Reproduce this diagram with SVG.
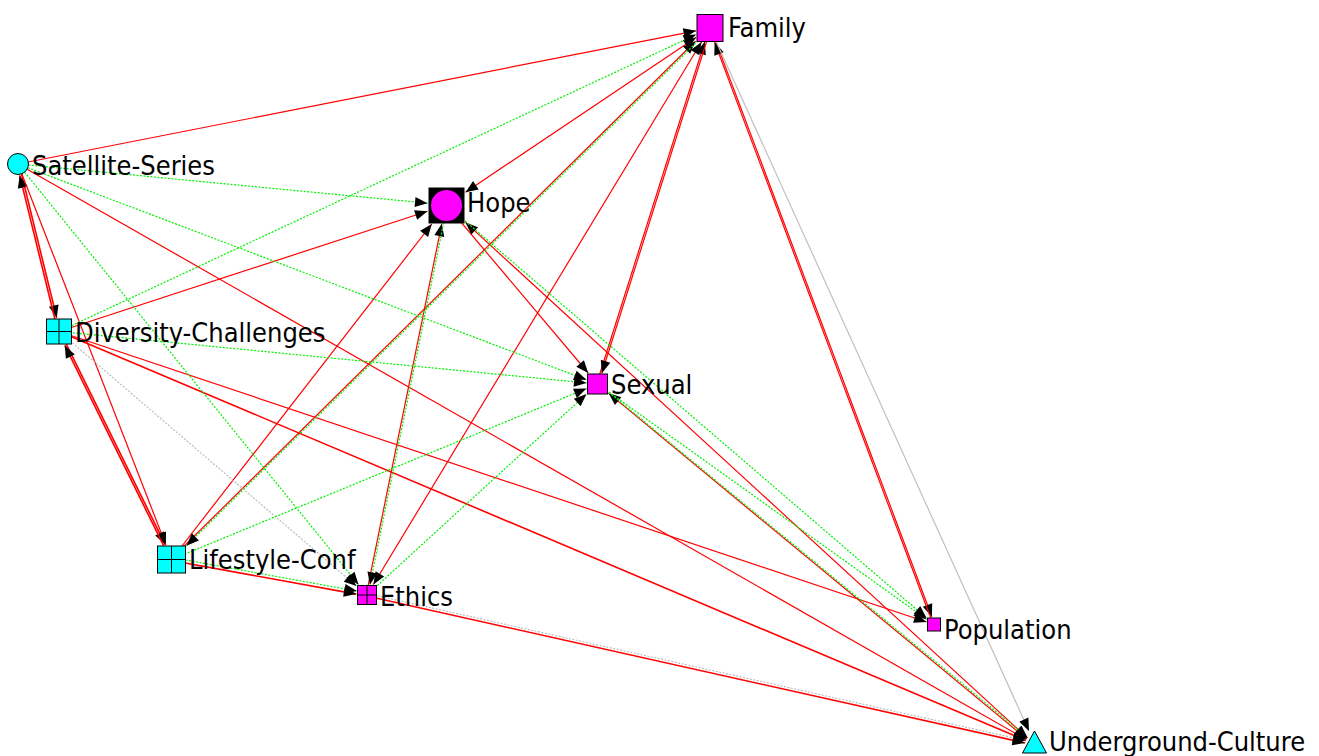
<svg xmlns="http://www.w3.org/2000/svg" width="1319" height="756" viewBox="0 0 1319 756">
<style>
.r{stroke:#ff0000;stroke-width:1.2;fill:none}
.rt{stroke:#ff0000;stroke-width:1.6;fill:none}
.g{stroke:#00f000;stroke-width:1.2;stroke-dasharray:2 1.5;fill:none}
.k{stroke:#c0c0c0;stroke-width:1.2;fill:none}
.kd{stroke:#b8b8b8;stroke-width:1.1;stroke-dasharray:2 1.5;fill:none}
.e{marker-end:url(#ah)}
.m{fill:#ff00ff;stroke:#000;stroke-width:1}
.c{fill:#00ffff;stroke:#000;stroke-width:1}
.gl{stroke:#000;stroke-width:1;fill:none}
text{font-family:"DejaVu Sans Condensed","DejaVu Sans",sans-serif;font-size:27px;fill:#000}
</style>
<defs>
<marker id="ah" markerUnits="userSpaceOnUse" markerWidth="13" markerHeight="11" refX="12.5" refY="5" orient="auto-start-reverse" overflow="visible"><path d="M0,0L12.5,5L0,10z" fill="#000"/></marker>
</defs>
<g id="connectors">
<line class="r e" x1="18" y1="164" x2="696" y2="30.8"/>
<line class="r e" x1="18" y1="164" x2="1026.2" y2="739.5"/>
<line class="rt e" x1="19" y1="163.8" x2="56.7" y2="317.8"/>
<line class="rt e" x1="58" y1="331.7" x2="19.7" y2="175.4"/>
<line class="r e" x1="18" y1="164" x2="165.9" y2="545"/>
<line class="r e" x1="59" y1="331.5" x2="427.5" y2="211.2"/>
<line class="r e" x1="59" y1="331.5" x2="926.5" y2="622"/>
<line class="rt e" x1="59" y1="331.5" x2="1025.7" y2="740.5"/>
<line class="rt e" x1="59.9" y1="331.1" x2="165.2" y2="544.6"/>
<line class="rt e" x1="170.6" y1="559.9" x2="64.8" y2="345.4"/>
<line class="r e" x1="465.5" y1="192.2" x2="696" y2="37.4" marker-start="url(#ah)"/>
<line class="r e" x1="446.5" y1="205" x2="588.2" y2="373"/>
<line class="r e" x1="465.5" y1="222.4" x2="1027.4" y2="737.9" marker-start="url(#ah)"/>
<line class="r e" x1="171.5" y1="559.5" x2="431.8" y2="224"/>
<line class="r e" x1="171" y1="559" x2="695.5" y2="41.3"/>
<line class="rt e" x1="171.3" y1="560.5" x2="356.3" y2="594.1"/>
<line class="r e" x1="373.4" y1="584.5" x2="701.5" y2="42" marker-start="url(#ah)"/>
<line class="r e" x1="366.2" y1="594.8" x2="441.8" y2="223.8"/>
<line class="rt e" x1="366.8" y1="596" x2="1025" y2="743"/>
<line class="r e" x1="596.7" y1="383.8" x2="704.8" y2="41.8"/>
<line class="r e" x1="710.8" y1="28.2" x2="601.8" y2="373.2"/>
<line class="r e" x1="608.5" y1="393.1" x2="1026.6" y2="738.9" marker-start="url(#ah)"/>
<line class="r e" x1="710.7" y1="27.7" x2="931.9" y2="616.7"/>
<line class="r e" x1="933.3" y1="624.8" x2="714.6" y2="42.3"/>
<line class="k e" x1="710" y1="28" x2="1029" y2="731"/>
<line class="kd e" x1="367.3" y1="593.5" x2="1025.5" y2="740.5"/>
<line class="kd e" x1="59" y1="331.5" x2="356.5" y2="586"/>
<line class="g e" x1="710.5" y1="28.5" x2="186.5" y2="545.7"/>
<line class="g e" x1="171.9" y1="557.5" x2="356.9" y2="591.1"/>
<line class="g e" x1="447.3" y1="205.2" x2="369.9" y2="584.7"/>
<line class="g e" x1="598" y1="383.4" x2="1027.6" y2="737.7"/>
<line class="g e" x1="18" y1="164" x2="427.5" y2="203.2"/>
<line class="g e" x1="18" y1="164" x2="586.5" y2="379.8"/>
<line class="g e" x1="18" y1="164" x2="358.5" y2="584.5"/>
<line class="g e" x1="59" y1="331.5" x2="696" y2="34.6"/>
<line class="g e" x1="59" y1="331.5" x2="586.5" y2="382.9"/>
<line class="g e" x1="171.5" y1="559.5" x2="586.5" y2="388.5"/>
<line class="g e" x1="367" y1="595" x2="586.5" y2="394.1"/>
<line class="g e" x1="446.5" y1="205" x2="926.5" y2="618"/>
<line class="g e" x1="597.5" y1="384" x2="926.5" y2="619.2"/>
</g>
<g id="node-family">
<rect class="m" x="697" y="14.5" width="26" height="27"/>
<text x="728" y="37">Family</text>
</g>
<g id="node-satellite-series">
<circle class="c" cx="18" cy="164" r="10.5"/>
<text x="32" y="175">Satellite-Series</text>
</g>
<g id="node-hope">
<rect x="428.5" y="187.5" width="36" height="36" fill="#000"/>
<circle cx="446.5" cy="205.5" r="15.5" fill="#ff00ff"/>
<text x="467" y="212">Hope</text>
</g>
<g id="node-diversity-challenges">
<rect class="c" x="46.5" y="319" width="25" height="25"/>
<path class="gl" d="M59,319V344M46.5,331.5H71.5"/>
<text x="75" y="342">Diversity-Challenges</text>
</g>
<g id="node-sexual">
<rect class="m" x="587.5" y="374" width="20" height="20"/>
<text x="611" y="394">Sexual</text>
</g>
<g id="node-lifestyle-conf">
<rect class="c" x="157.5" y="546" width="28" height="27"/>
<path class="gl" d="M171.5,546V573M157.5,559.5H185.5"/>
<text x="189" y="569">Lifestyle-Conf</text>
</g>
<g id="node-ethics">
<rect class="m" x="357.5" y="585.5" width="19" height="19"/>
<path class="gl" d="M367,585.5V604.5M357.5,595H376.5"/>
<text x="380" y="606">Ethics</text>
</g>
<g id="node-population">
<rect class="m" x="927.5" y="618" width="13" height="13"/>
<text x="944" y="639">Population</text>
</g>
<g id="node-underground-culture">
<path class="c" d="M1034.5,731L1046.5,753H1022.5z"/>
<text x="1049" y="751">Underground-Culture</text>
</g>
</svg>
